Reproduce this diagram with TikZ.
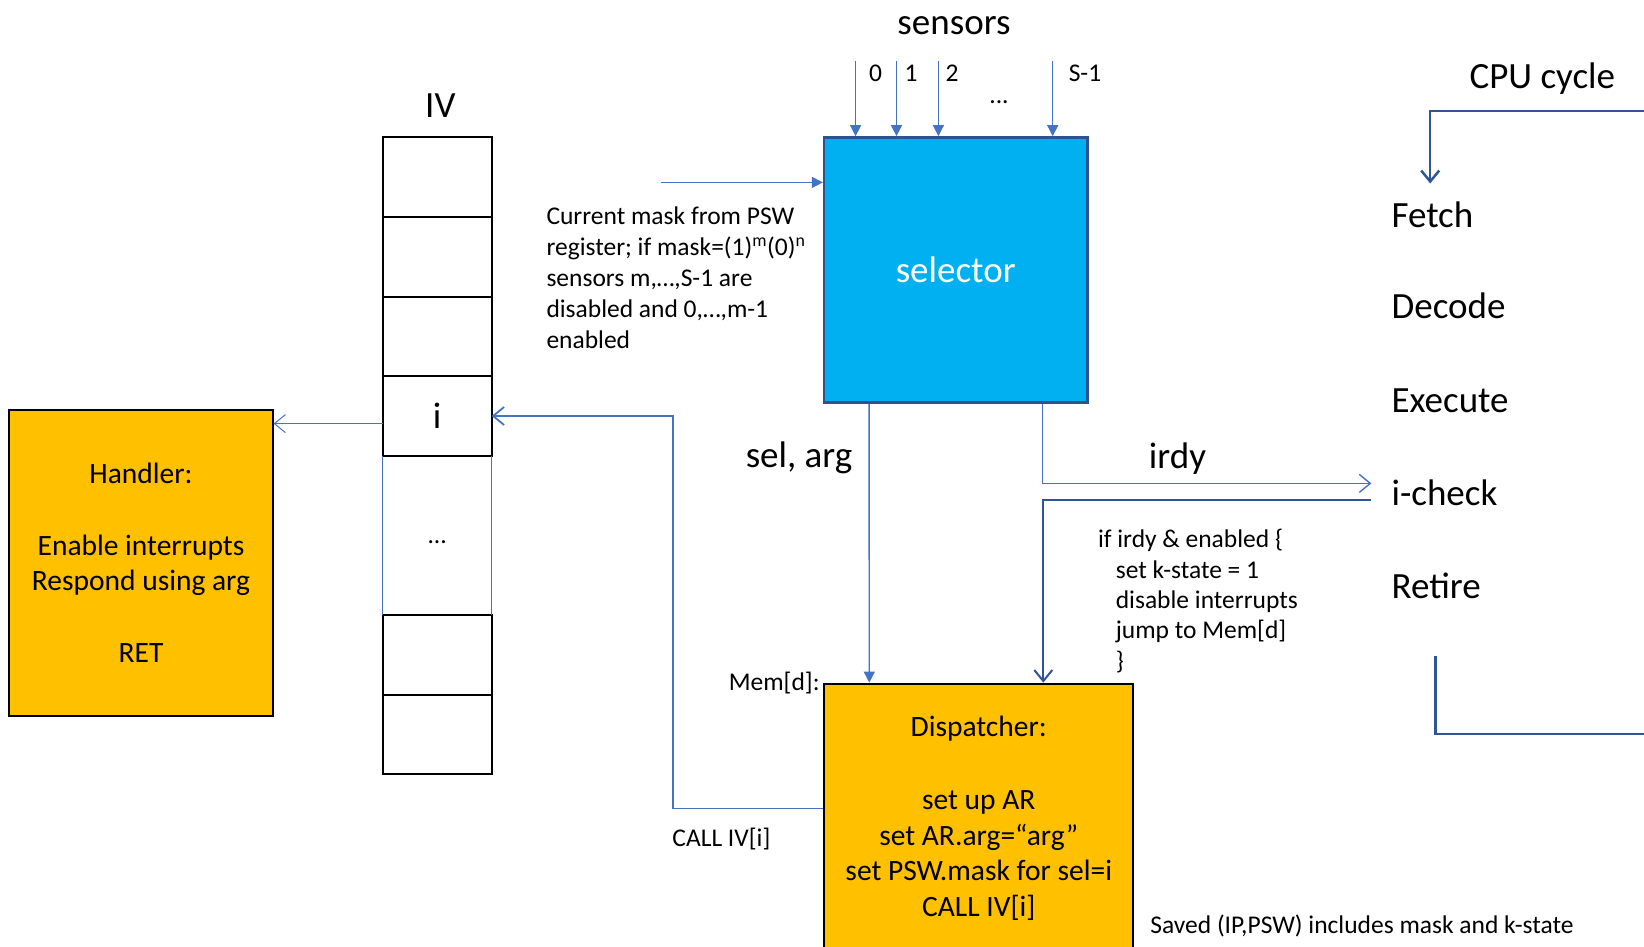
\documentclass[tikz,border=0pt]{standalone}
\usepackage{fontspec}
\setmainfont{Carlito}
\usepackage{xcolor}
\usepackage{tikz}
\usetikzlibrary{positioning, arrows.meta, calc}
\definecolor{selblue}{HTML}{00B0F0}
\definecolor{selborder}{HTML}{2F528F}
\definecolor{wireblue}{HTML}{4472C4}
\definecolor{cycleblue}{HTML}{2F5597}
\definecolor{boxorange}{HTML}{FFC000}
\newcommand{\ivbigfont}{\fontsize{37}{44}\selectfont}
\newcommand{\ivboxfont}{\fontsize{29.5}{35.5}\selectfont}
\newcommand{\ivnotefont}{\fontsize{25.5}{31}\selectfont}

\begin{document}
\begin{tikzpicture}[x=1pt, y=-1pt]

	\tikzstyle{ivcell}=[rectangle, draw=black, line width=2pt, outer sep=0pt, minimum width=109pt, minimum height=79.6pt, inner sep=0pt, font=\ivbigfont]
	\tikzstyle{codebox}=[rectangle, draw=black, line width=2pt, fill=boxorange, align=center, font=\ivboxfont]
	\tikzstyle{stage}=[anchor=west, inner xsep=20pt, inner ysep=0pt, font=\ivbigfont]
	\tikzstyle{wire}=[draw=wireblue, line width=1.4pt]
	\tikzstyle{cyclewire}=[draw=cycleblue, line width=2.5pt]
	\tikzstyle{fillhead}=[-{Triangle[length=11pt, width=11pt]}]
	\tikzstyle{openhead}=[-{Straight Barb[length=11pt, width=18pt]}]

	\useasboundingbox (0,0) rectangle (1644,947);

	% sensors and selector
	\node (sensors) at (954,26) [font=\ivbigfont] {sensors};
	\node (selector) at (955.7,270) [rectangle, draw=selborder, line width=2.5pt, fill=selblue, minimum width=263.2pt, minimum height=265.2pt, text=white, font=\ivbigfont] {selector};

	\foreach \sx [count=\k from 0] in {855.6, 896.5, 938.4, 1052.7} {
		\coordinate (s\k) at (\sx, 60.8);
		\draw [wire, fillhead] (s\k) -- (s\k |- selector.north);
	}
	\node (sl0) at (875.5,73.4) [font=\ivnotefont] {0};
	\node (sl1) at (911.1,73.4) [font=\ivnotefont] {1};
	\node (sl2) at (952,73.4) [font=\ivnotefont] {2};
	\node (sl3) at (1085,73.4) [font=\ivnotefont] {S-1};
	\node (sldots) at (999,102.6) [font=\ivnotefont] {...};

	\coordinate (maskin) at (660.6,182.4);
	\draw [wire, fillhead] (maskin) -- (maskin -| selector.west);
	\node (masknote) at (546.3,207) [anchor=north west, inner sep=0pt, align=left, font=\ivnotefont] {Current mask from PSW\\register; if mask=(1)\textsuperscript{m}(0)\textsuperscript{n}\\sensors m,…,S-1 are\\disabled and 0,…,m-1\\enabled};

	% interrupt vector
	\node (ivlabel) at (440.4,105.9) [font=\ivbigfont] {IV};
	\node (cell1) at (437.2,177.2) [ivcell] {};
	\node (cell2) [ivcell, below=0pt of cell1] {};
	\node (cell3) [ivcell, below=0pt of cell2] {};
	\node (celli) [ivcell, below=0pt of cell3] {i};
	\node (ivgap) [minimum width=109pt, minimum height=159.2pt, inner sep=0pt, outer sep=0pt, below=0pt of celli] {};
	\node (ivdots) at ([yshift=-7pt]ivgap.center) [font=\ivnotefont] {...};
	\node (cell5) [ivcell, below=0pt of ivgap] {};
	\node (cell6) [ivcell, below=0pt of cell5] {};
	\draw [wire, line width=1pt] (ivgap.north west) -- (ivgap.south west) (ivgap.north east) -- (ivgap.south east);

	% handler
	\node (handler) at (141,563) [codebox, minimum width=263.2pt, minimum height=306pt] {Handler:\\[36pt]Enable interrupts\\Respond using arg\\[36pt]RET};
	\coordinate (hfrom) at ([yshift=-7.6pt]celli.west);
	\draw [wire, line width=1pt, openhead] (hfrom) -- (hfrom -| handler.east);

	% dispatcher
	\node (dispatcher) at (978.75,682.6) [codebox, anchor=north, minimum width=309.3pt, minimum height=268.4pt] {Dispatcher:\\[38pt]set up AR\\set AR.arg=“arg”\\set PSW.mask for sel=i\\CALL IV[i]};
	\node (memd) at (dispatcher.north west) [anchor=east, font=\ivnotefont] {Mem[d]:};
	\node (selarg) at (799,458.2) [font=\ivbigfont] {sel, arg};
	\draw [wire, fillhead] ([xshift=46.2pt]selector.south west) -- ([xshift=46.2pt]dispatcher.north west);

	\draw [wire, line width=1.8pt, openhead] ([yshift=-125.8pt]dispatcher.north west) -- ++(-149.9,0) |- (celli.east);
	\node (calllbl) at (721.4,838.8) [font=\ivnotefont] {CALL IV[i]};

	% CPU cycle
	\node (cpucycle) at (1542.3,78.6) [font=\ivbigfont] {CPU cycle};
	\node (fetch) at (1371.4,215) [stage] {Fetch};
	\node (decode) at (1371.4,306.2) [stage] {Decode};
	\node (execute) at (1371.4,400.5) [stage] {Execute};
	\node (icheck) at (1371.4,492.8) [stage] {i-check};
	\node (retire) at (1371.4,586.1) [stage] {Retire};

	\coordinate (cycin) at (1644,111.1);
	\draw [cyclewire, openhead] (cycin) -| ([xshift=58.8pt, yshift=31.5pt]fetch.west);
	\coordinate (cycout) at ([xshift=64pt, yshift=-70.3pt]retire.west);
	\coordinate (cycend) at (1644,734);
	\draw [cyclewire] (cycout) |- (cycend);

	% irdy in, jump out
	\coordinate (irdyin) at ([yshift=9.4pt]icheck.west);
	\draw [wire, openhead] ([xshift=-46.1pt]selector.south east) |- (irdyin);
	\node (irdylbl) at (1177.5,458.2) [font=\ivbigfont] {irdy};

	\coordinate (icheckout) at ([yshift=-7.3pt]icheck.west);
	\draw [cyclewire, line width=2pt, openhead] (icheckout) -| ([xshift=220.2pt]dispatcher.north west);
	\node (irdynote) at (1097.8,529) [anchor=north west, inner sep=0pt, align=left, font=\fontsize{25.5}{30.4}\selectfont] {if irdy \& enabled \{\\\hspace*{17.8pt}set k-state = 1\\\hspace*{17.8pt}disable interrupts\\\hspace*{17.8pt}jump to Mem[d]\\\hspace*{17.8pt}\}};

	\node (savednote) at (1150.2,925.8) [anchor=west, inner sep=0pt, font=\ivnotefont] {Saved (IP,PSW) includes mask and k-state};
\end{tikzpicture}
\end{document}
